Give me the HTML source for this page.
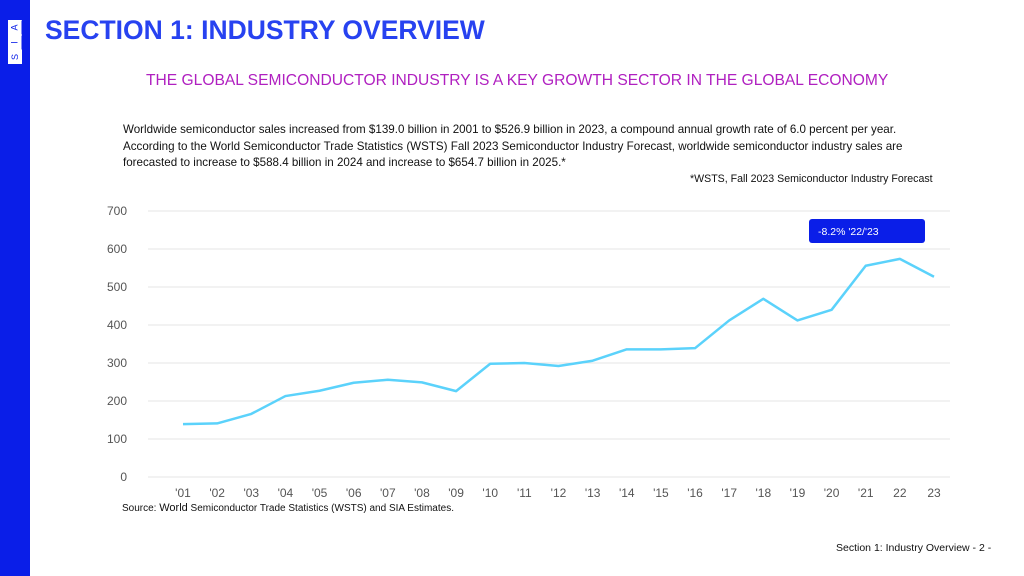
<!DOCTYPE html>
<html><head><meta charset="utf-8"><style>
body{margin:0;width:1024px;height:576px;position:relative;background:#fff;font-family:"Liberation Sans",sans-serif;overflow:hidden}
.bar{position:absolute;left:0;top:0;width:30px;height:576px;background:#0a1ee8}
.logo{position:absolute;left:8px;top:20px;width:14px;background:#fff;color:#0a1ee8;font-size:9px;text-align:center}
.logo div{height:14px;line-height:14px;border-bottom:1px solid #0a1ee8;transform:rotate(-90deg)}
.t{position:absolute;white-space:nowrap}
</style></head><body>
<div class="bar"></div>
<div class="logo"><div>A</div><div>I</div><div style="border:0">S</div></div>
<div class="t" style="left:45px;top:15px;font-size:26.5px;font-weight:bold;color:#2742f0">SECTION 1: INDUSTRY OVERVIEW</div>
<div class="t" style="left:146px;top:72px;font-size:15.6px;color:#b020c0">THE GLOBAL SEMICONDUCTOR INDUSTRY IS A KEY GROWTH SECTOR IN THE GLOBAL ECONOMY</div>
<div class="t" style="left:123px;top:122px;font-size:11.6px;line-height:16.5px;color:#111">Worldwide semiconductor sales increased from $139.0 billion in 2001 to $526.9 billion in 2023, a compound annual growth rate of 6.0 percent per year.<br>According to the World Semiconductor Trade Statistics (WSTS) Fall 2023 Semiconductor Industry Forecast, worldwide semiconductor industry sales are<br>forecasted to increase to $588.4 billion in 2024 and increase to $654.7 billion in 2025.*</div>
<div class="t" style="left:690px;top:173px;font-size:10.6px;color:#111">*WSTS, Fall 2023 Semiconductor Industry Forecast</div>
<svg id="c" width="1024" height="576" style="position:absolute;left:0;top:0"></svg>
<div class="t" style="left:122px;top:502px;font-size:10px;color:#111">Source: <span style="font-size:11px">World</span> Semiconductor Trade Statistics (WSTS) and SIA Estimates.</div>
<div class="t" style="left:836px;top:542px;font-size:10.5px;color:#111">Section 1: Industry Overview - 2 -</div>
<script>
const categories=["'01","'02","'03","'04","'05","'06","'07","'08","'09","'10","'11","'12","'13","'14","'15","'16","'17","'18","'19","'20","'21","22","23"];
const sales=[139,141,166,213,227,248,256,249,226,298,300,292,306,336,336,339,412,469,412,440,556,574,527];
const yTicks=[0,100,200,300,400,500,600,700];
const ns="http://www.w3.org/2000/svg",svg=document.getElementById('c');
const x=i=>183+i*(934-183)/(categories.length-1);
const y=v=>477-v*(477-211)/700;
function mk(t,a){const e=document.createElementNS(ns,t);for(const k in a)e.setAttribute(k,a[k]);svg.appendChild(e);return e;}
yTicks.forEach(v=>{
 const l=mk('line',{x1:148,x2:950,y1:y(v),y2:y(v),stroke:'#e6e6e6','stroke-width':1});
 
 
 const t=mk('text',{x:127,y:y(v)+4,'font-size':12,fill:'#555','text-anchor':'end'});t.textContent=v;
 
 
});
categories.forEach((c,i)=>{
 const t=mk('text',{x:x(i),y:497,'font-size':12,fill:'#555','text-anchor':'middle'});t.textContent=c;
 
 
});
const p=mk('polyline',{points:sales.map((v,i)=>x(i)+','+y(v)).join(' '),fill:'none',stroke:'#5bd2fb','stroke-width':2.5,'stroke-linejoin':'round'});


const b=mk('rect',{x:809,y:219,width:116,height:24,rx:3,fill:'#0a1ee8'});


const bt=mk('text',{x:818,y:235,'font-size':10.5,fill:'#fff'});bt.textContent="-8.2% '22/'23";


</script>
</body></html>
